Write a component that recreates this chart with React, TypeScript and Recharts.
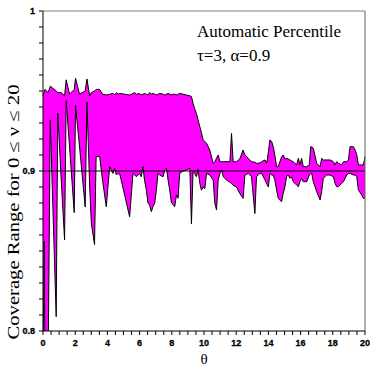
import React from 'react';
import { ComposedChart, Area, Line, XAxis, YAxis, ReferenceLine, Label } from 'recharts';

const theta = [
  0, 0.08, 0.12, 0.32, 0.45, 0.82, 0.92, 1.13, 1.34, 1.44,
  1.65, 1.94, 2.02, 2.27, 2.62, 2.73, 2.9, 3.0, 3.2, 3.3,
  3.52, 3.7, 3.93, 4.14, 4.35, 4.45, 4.56, 4.66, 4.77, 5.38,
  5.59, 5.7, 5.8, 6.0, 6.1, 6.21, 6.31, 6.42, 6.52, 6.62,
  6.73, 6.83, 6.94, 7.04, 7.14, 7.25, 7.46, 7.56, 7.67, 7.77,
  7.87, 7.98, 8.08, 8.18, 8.29, 8.39, 8.49, 8.7, 8.91, 9.12,
  9.22, 9.32, 9.42, 9.53, 9.63, 9.74, 9.84, 9.94, 10.05, 10.16,
  10.36, 10.57, 10.67, 10.78, 10.88, 10.99, 11.09, 11.2, 11.4, 11.61,
  11.71, 11.81, 12.02, 12.22, 12.43, 12.54, 12.75, 12.95, 13.16, 13.26,
  13.47, 13.58, 13.79, 13.9, 14.0, 14.09, 14.2, 14.3, 14.4, 14.51,
  14.61, 14.82, 14.92, 15.03, 15.13, 15.23, 15.34, 15.44, 15.54, 15.65,
  15.75, 15.86, 15.96, 16.06, 16.17, 16.38, 16.54, 16.63, 16.69, 16.79,
  17.0, 17.21, 17.31, 17.41, 17.62, 17.83, 18.04, 18.14, 18.24, 18.35,
  18.55, 18.66, 18.87, 18.97, 19.07, 19.28, 19.39, 19.49, 19.59, 19.8,
  19.9, 20,
];

const lower = [
  0.78, 0.856, 0.78, 0.78, 0.932, 0.809, 0.936, 0.895, 0.857, 0.944,
  0.915, 0.874, 0.941, 0.915, 0.8775, 0.943, 0.89, 0.8675, 0.854, 0.909,
  0.909, 0.894, 0.8777, 0.9027, 0.8985, 0.9017, 0.8975, 0.8985, 0.898, 0.8714,
  0.8985, 0.8975, 0.8964, 0.8985, 0.8964, 0.9027, 0.894, 0.888, 0.88, 0.8788,
  0.8746, 0.8777, 0.88, 0.888, 0.8985, 0.8975, 0.8964, 0.9006, 0.9017, 0.8943,
  0.888, 0.88, 0.879, 0.8777, 0.885, 0.883, 0.8985, 0.9, 0.9006, 0.9017,
  0.867, 0.8995, 0.8985, 0.8964, 0.901, 0.8922, 0.888, 0.89, 0.889, 0.8985,
  0.8975, 0.8943, 0.88, 0.8756, 0.8943, 0.8985, 0.9006, 0.8964, 0.8943, 0.893,
  0.8922, 0.891, 0.89, 0.886, 0.8829, 0.8975, 0.8985, 0.8964, 0.8734, 0.8964,
  0.8985, 0.8985, 0.8943, 0.892, 0.89, 0.8985, 0.8975, 0.8975, 0.8943, 0.8881,
  0.8829, 0.8808, 0.886, 0.8902, 0.8964, 0.8975, 0.8954, 0.8964, 0.8933, 0.8923,
  0.8912, 0.8902, 0.8933, 0.8954, 0.8933, 0.8933, 0.8975, 0.8985, 0.8985, 0.8933,
  0.8871, 0.8819, 0.8871, 0.8954, 0.8975, 0.8975, 0.8964, 0.8923, 0.8902, 0.8902,
  0.8923, 0.8933, 0.8975, 0.8985, 0.8985, 0.8975, 0.8975, 0.8964, 0.888, 0.885,
  0.8829, 0.883,
];

const upper = [
  0.947, 0.95, 0.951, 0.949, 0.953, 0.95, 0.949, 0.949, 0.947, 0.957,
  0.948, 0.951, 0.958, 0.948, 0.95, 0.9575, 0.947, 0.949, 0.95, 0.951,
  0.951, 0.948, 0.9475, 0.948, 0.9485, 0.9475, 0.949, 0.948, 0.9485, 0.9475,
  0.9485, 0.949, 0.948, 0.9485, 0.9475, 0.948, 0.9485, 0.948, 0.9475, 0.949,
  0.948, 0.9485, 0.948, 0.9475, 0.948, 0.9485, 0.948, 0.9475, 0.948, 0.9485,
  0.948, 0.9475, 0.948, 0.948, 0.9475, 0.948, 0.9485, 0.948, 0.9475, 0.947,
  0.9465, 0.9423, 0.939, 0.936, 0.932, 0.9277, 0.924, 0.9194, 0.9185, 0.9173,
  0.9131, 0.9048, 0.9058, 0.908, 0.91, 0.9058, 0.9058, 0.9058, 0.9058, 0.9058,
  0.9235, 0.9058, 0.9058, 0.9075, 0.9131, 0.91, 0.9079, 0.9058, 0.9055, 0.9048,
  0.905, 0.9058, 0.9069, 0.9048, 0.912, 0.9194, 0.9185, 0.9152, 0.91, 0.9027,
  0.9027, 0.9089, 0.91, 0.9075, 0.9079, 0.9075, 0.9069, 0.9063, 0.9058, 0.9048,
  0.9038, 0.9079, 0.9038, 0.9079, 0.9027, 0.9027, 0.9038, 0.9152, 0.9152, 0.9142,
  0.9048, 0.9027, 0.9079, 0.9069, 0.9069, 0.9069, 0.9058, 0.9038, 0.9058, 0.9048,
  0.9038, 0.9058, 0.9058, 0.9069, 0.9152, 0.9152, 0.9131, 0.91, 0.9038, 0.9038,
  0.9038, 0.9089,
];

const xTicks = [
  0, 0.5, 1, 1.5, 2, 2.5, 3, 3.5, 4, 4.5, 5, 5.5, 6, 6.5, 7, 7.5, 8, 8.5, 9, 9.5, 10,
  10.5, 11, 11.5, 12, 12.5, 13, 13.5, 14, 14.5, 15, 15.5, 16, 16.5, 17, 17.5, 18, 18.5, 19, 19.5, 20,
];
const xMajor = [0, 2, 4, 6, 8, 10, 12, 14, 16, 18, 20];
const xTickLabels = ['0', '2', '4', '6', '8', '10', '12', '14', '16', '18', '20'];

const yTicks = [
  0.8, 0.81, 0.82, 0.83, 0.84, 0.85, 0.86, 0.87, 0.88, 0.89, 0.9,
  0.91, 0.92, 0.93, 0.94, 0.95, 0.96, 0.97, 0.98, 0.99, 1,
];
const yMajor = [0.8, 0.9, 1];
const yTickLabels = ['0.8', '0.9', '1'];

const data = theta.map((t, i) => ({
  theta: t,
  lower: lower[i],
  upper: upper[i],
  band: [lower[i], upper[i]],
}));

const tickFont = { fontFamily: 'Liberation Sans, Arial, sans-serif', fontWeight: 700, fontSize: 9 };
const serif = "'Liberation Serif', 'Times New Roman', Times, 'DejaVu Serif', serif";

const YTick = (props: any) => {
  const { x, y, payload } = props;
  const idx = yMajor.findIndex((v) => Math.abs(v - payload.value) < 1e-6);
  return (
    <g>
      <line x1={x - 4} x2={x} y1={y} y2={y} stroke="#000" strokeWidth={1} />
      {idx >= 0 && (
        <text x={x - 8} y={y + 3} textAnchor="end" fill="#000" stroke="#000" strokeWidth={0.3} {...tickFont}>
          {yTickLabels[idx]}
        </text>
      )}
    </g>
  );
};

const XTick = (props: any) => {
  const { x, y, payload } = props;
  const idx = xMajor.findIndex((v) => Math.abs(v - payload.value) < 1e-6);
  return (
    <g>
      <line x1={x} x2={x} y1={y} y2={y + 4} stroke="#000" strokeWidth={1} />
      {idx >= 0 && (
        <text x={x} y={y + 15} textAnchor="middle" fill="#000" stroke="#000" strokeWidth={0.3} {...tickFont}>
          {xTickLabels[idx]}
        </text>
      )}
    </g>
  );
};

export default function App() {
  return (
    <div style={{ position: 'absolute', left: 0, top: 0, width: 370, height: 368, background: '#fff' }}>
      <ComposedChart width={370} height={368} data={data} margin={{ top: 11, right: 5, bottom: 0, left: 0 }}>
        <XAxis
          dataKey="theta"
          type="number"
          domain={[0, 20]}
          ticks={xTicks}
          interval={0}
          tickSize={0}
          tickMargin={0}
          tick={<XTick />}
          axisLine={{ stroke: '#000' }}
          height={37}
        >
          <Label
            content={() => (
              <text x={204} y={364} textAnchor="middle" style={{ fontFamily: serif }} fontSize={15} fill="#000">
                θ
              </text>
            )}
          />
        </XAxis>
        <YAxis
          type="number"
          domain={[0.8, 1]}
          allowDataOverflow
          ticks={yTicks}
          interval={0}
          tickSize={0}
          tickMargin={0}
          tick={<YTick />}
          axisLine={{ stroke: '#000' }}
          width={43}
        >
          <Label
            content={() => (
              <text
                transform="translate(19,212) rotate(-90)"
                textAnchor="middle"
                style={{ fontFamily: serif }}
                fontSize={16}
                fill="#000"
                textLength={255}
                lengthAdjust="spacingAndGlyphs"
              >
                Coverage Range for 0 ≤ ν ≤ 20
              </text>
            )}
          />
        </YAxis>
        <Area
          type="linear"
          dataKey="band"
          fill="#ff00ff"
          fillOpacity={1}
          stroke="none"
          isAnimationActive={false}
        />
        <Line type="linear" dataKey="upper" stroke="#000" strokeWidth={1} dot={false} isAnimationActive={false} />
        <Line type="linear" dataKey="lower" stroke="#000" strokeWidth={1} dot={false} isAnimationActive={false} />
        <ReferenceLine y={0.9} stroke="#000" strokeWidth={1} />
        <ReferenceLine y={1} stroke="#808080" strokeWidth={1} />
        <ReferenceLine x={20} stroke="#606060" strokeWidth={1} />
      </ComposedChart>
      <div
        style={{
          position: 'absolute',
          left: 197,
          top: 20,
          fontFamily: serif,
          fontSize: 17,
          lineHeight: '24px',
          color: '#000',
          whiteSpace: 'nowrap',
        }}
      >
        <div>Automatic Percentile</div>
        <div>τ=3, α=0.9</div>
      </div>
    </div>
  );
}
